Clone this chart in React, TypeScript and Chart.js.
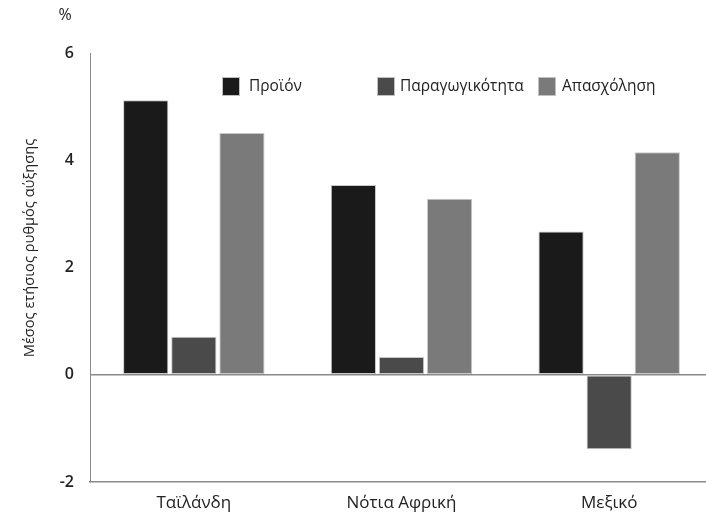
import React, { useEffect, useRef } from "react";
import { Chart, registerables } from "chart.js";

Chart.register(...registerables);

const categories = ["Ταϊλάνδη", "Νότια Αφρική", "Μεξικό"];
const seriesNames = ["Προϊόν", "Παραγωγικότητα", "Απασχόληση"];
const output = [5.12, 3.54, 2.67];
const productivity = [0.71, 0.33, -1.39];
const employment = [4.51, 3.28, 4.15];
const yTicks = [-2, 0, 2, 4, 6];
const yTitle = "Μέσος ετήσιος ρυθμός αύξησης";
const unitLabel = "%";

const colors = ["#1a1a1a", "#4a4a4a", "#7a7a7a"];
const FONT = "'Open Sans', 'Noto Sans', sans-serif";

const legendX = [222, 377, 538];
const legendTextGap = [27, 23, 24];

const customDraw = {
  id: "customDraw",
  afterDraw(chart: any) {
    const ctx = chart.ctx;
    ctx.save();
    chart.data.datasets.forEach((ds: any, i: number) => {
      const x = legendX[i];
      const y = 77;
      ctx.fillStyle = ds.backgroundColor;
      ctx.fillRect(x, y, 18, 19);
      ctx.strokeStyle = "#c0c0c0";
      ctx.lineWidth = 1;
      ctx.strokeRect(x + 0.5, y + 0.5, 17, 18);
      ctx.fillStyle = "#222";
      ctx.font = `15.5px ${FONT}`;
      ctx.textBaseline = "middle";
      ctx.textAlign = "left";
      ctx.fillText(ds.label, x + legendTextGap[i], y + 10);
    });
    ctx.font = `16px ${FONT}`;
    ctx.fillStyle = "#222";
    ctx.textAlign = "center";
    ctx.textBaseline = "middle";
    ctx.fillText(unitLabel, 65, 15);
    ctx.translate(30, 248);
    ctx.rotate(-Math.PI / 2);
    ctx.font = `14.6px ${FONT}`;
    ctx.fillText(yTitle, 0, 0);
    ctx.restore();
  },
};

export default function App() {
  const ref = useRef<HTMLCanvasElement>(null);
  useEffect(() => {
    if (!ref.current) return;
    const chart = new Chart(ref.current, {
      type: "bar",
      data: {
        labels: categories,
        datasets: [output, productivity, employment].map((d, i) => ({
          label: seriesNames[i],
          data: d,
          backgroundColor: colors[i],
          borderColor: "#c8c8c8",
          borderWidth: 1,
          borderSkipped: false,
          categoryPercentage: 0.695,
          barPercentage: 0.94,
        })),
      },
      options: {
        animation: false,
        responsive: false,
        maintainAspectRatio: false,
        layout: { padding: { top: 53, left: 0, right: 0, bottom: 0 } },
        plugins: { legend: { display: false }, tooltip: { enabled: false } },
        scales: {
          x: {
            grid: { display: false, drawTicks: false },
            border: { display: true, color: "#8a8a8a", width: 1.5 },
            ticks: { color: "#222", font: { family: FONT, size: 17 }, padding: 11 },
            afterFit: (s: any) => {
              s.height = 33;
            },
          },
          y: {
            min: -2,
            max: 6,
            afterBuildTicks: (s: any) => {
              s.ticks = yTicks.map((v) => ({ value: v }));
            },
            grid: {
              drawTicks: false,
              color: (c: any) => (c.tick && c.tick.value === 0 ? "#8a8a8a" : "rgba(0,0,0,0)"),
              lineWidth: 1.5,
            },
            border: { display: true, color: "#8a8a8a", width: 1 },
            ticks: { color: "#222", font: { family: FONT, size: 16, weight: "600" }, padding: 16 },
            afterFit: (s: any) => {
              s.width = 90;
            },
          },
        },
      },
      plugins: [customDraw],
    });
    return () => chart.destroy();
  }, []);
  return (
    <div style={{ position: "fixed", left: 0, top: 0, width: 706, height: 515, overflow: "hidden", background: "#fff" }}>
      <canvas ref={ref} width={713} height={515} style={{ display: "block" }} />
    </div>
  );
}
